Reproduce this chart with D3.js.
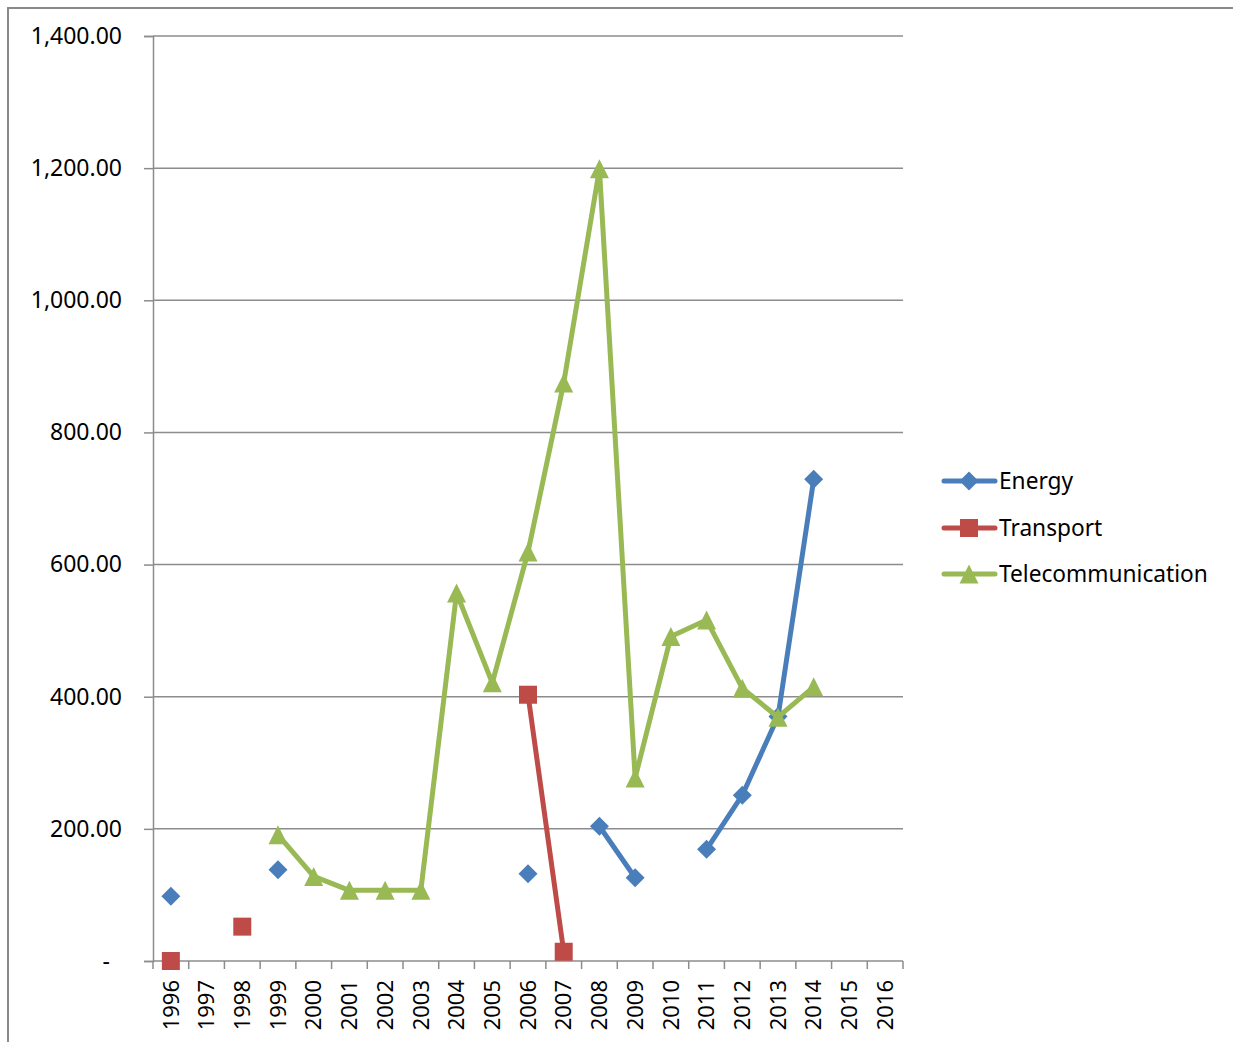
<!DOCTYPE html>
<html>
<head>
<meta charset="utf-8">
<script src="https://cdn.jsdelivr.net/npm/d3@7"></script>
<style>
  html, body { margin: 0; padding: 0; background: #fff; }
  svg { display: block; }
  text { font-family: "Noto Sans", "Open Sans", sans-serif; fill: #000; }
</style>
</head>
<body>
<div id="chart"></div>
<script>
// Yearly values by sector; null marks a year with no value (gap in the line).
const years = ["1996","1997","1998","1999","2000","2001","2002","2003","2004","2005","2006",
               "2007","2008","2009","2010","2011","2012","2013","2014","2015","2016"];

const energy = [98, null, null, 138, null, null, null, null, null, null, 132,
                null, 204, 126, null, 169, 251, 370, 729, null, null];

const transport = [0, null, 52, null, null, null, null, null, null, null, 403,
                   14, null, null, null, null, null, null, null, null, null];

const telecom = [null, null, null, 191, 128, 107, 107, 107, 557, 421, 619,
                 875, 1199, 277, 491, 516, 413, 369, 415, null, null];

const yTicks = [0, 200, 400, 600, 800, 1000, 1200, 1400];

const seriesNames = ["Energy", "Transport", "Telecommunication"];
const seriesColors = ["#4A7EBB", "#BE4B48", "#98B954"];
const seriesShapes = ["diamond", "square", "triangle"];

const W = 1233, H = 1042;
const plot = { left: 153, top: 36, right: 903, bottom: 961 };

const svg = d3.select("#chart").append("svg")
  .attr("width", W).attr("height", H);

// outer chart-area frame (runs off the right and bottom edges)
svg.append("rect")
  .attr("x", 8).attr("y", 8)
  .attr("width", W + 20).attr("height", H + 20)
  .attr("fill", "none").attr("stroke", "#8a8a8a").attr("stroke-width", 2);

const x = d3.scaleBand().domain(years).range([plot.left, plot.right]).paddingInner(0).paddingOuter(0);
const y = d3.scaleLinear().domain([0, 1400]).range([plot.bottom, plot.top]);
const cx = d => x(d) + x.bandwidth() / 2;

const gridColor = "#8c8c8c";

// horizontal gridlines
svg.append("g").selectAll("line")
  .data(yTicks.filter(v => v > 0))
  .join("line")
  .attr("x1", plot.left).attr("x2", plot.right)
  .attr("y1", d => y(d)).attr("y2", d => y(d))
  .attr("stroke", gridColor).attr("stroke-width", 1.5);

// value axis
const yAxis = svg.append("g")
  .attr("transform", `translate(${plot.left},0)`)
  .call(d3.axisLeft(y).tickValues(yTicks).tickSize(9).tickPadding(22)
    .tickFormat(v => v === 0 ? "-" : d3.format(",.2f")(v)));
yAxis.select(".domain").attr("stroke", gridColor).attr("stroke-width", 1.5);
yAxis.selectAll(".tick line").attr("stroke", gridColor).attr("stroke-width", 1.5);
yAxis.selectAll(".tick text")
  .style("font-size", "23px")
  .attr("fill", "#000")
  .attr("dx", v => v === 0 ? -12 : 0);

// category axis: line, boundary ticks, rotated year labels
const xg = svg.append("g");
xg.append("line")
  .attr("x1", plot.left).attr("x2", plot.right)
  .attr("y1", plot.bottom).attr("y2", plot.bottom)
  .attr("stroke", gridColor).attr("stroke-width", 1.5);
const bounds = years.map(d => x(d)).concat([x(years[years.length - 1]) + x.bandwidth()]);
xg.selectAll("line.tick")
  .data(bounds)
  .join("line")
  .attr("class", "tick")
  .attr("x1", d => d).attr("x2", d => d)
  .attr("y1", plot.bottom).attr("y2", plot.bottom + 8)
  .attr("stroke", gridColor).attr("stroke-width", 1.5);
xg.selectAll("text")
  .data(years)
  .join("text")
  .attr("transform", d => `translate(${cx(d)},${plot.bottom + 19}) rotate(-90)`)
  .attr("text-anchor", "end")
  .attr("dy", "0.35em")
  .style("font-size", "22px")
  .text(d => d);

// marker shapes
function markerPath(shape) {
  if (shape === "diamond") { const r = 9.5; return `M0,${-r}L${r},0L0,${r}L${-r},0Z`; }
  if (shape === "square") { const r = 9; return `M${-r},${-r}H${r}V${r}H${-r}Z`; }
  const w = 9.5, h = 9.5; return `M0,${-h}L${w},${h}L${-w},${h}Z`;
}

const allSeries = [energy, transport, telecom];
const line = d3.line()
  .defined(d => d.v !== null)
  .x(d => cx(d.year))
  .y(d => y(d.v));

allSeries.forEach((vals, i) => {
  const pts = years.map((yr, k) => ({ year: yr, v: vals[k] }));
  const g = svg.append("g");
  g.append("path")
    .datum(pts)
    .attr("d", line)
    .attr("fill", "none")
    .attr("stroke", seriesColors[i])
    .attr("stroke-width", 5)
    .attr("stroke-linejoin", "round")
    .attr("stroke-linecap", "round");
  g.selectAll("path.mk")
    .data(pts.filter(d => d.v !== null))
    .join("path")
    .attr("class", "mk")
    .attr("transform", d => `translate(${cx(d.year)},${y(d.v)})`)
    .attr("d", markerPath(seriesShapes[i]))
    .attr("fill", seriesColors[i]);
});

// legend
const legend = svg.append("g");
const legendY = [481, 528, 574];
seriesNames.forEach((name, i) => {
  const row = legend.append("g").attr("transform", `translate(0,${legendY[i]})`);
  row.append("line")
    .attr("x1", 944).attr("x2", 995).attr("y1", 0).attr("y2", 0)
    .attr("stroke", seriesColors[i]).attr("stroke-width", 5)
    .attr("stroke-linecap", "round");
  row.append("path")
    .attr("transform", "translate(969,0)")
    .attr("d", markerPath(seriesShapes[i]))
    .attr("fill", seriesColors[i]);
  row.append("text")
    .attr("x", 999).attr("y", 0).attr("dy", "0.35em")
    .style("font-size", "22.7px")
    .text(name);
});
</script>
</body>
</html>
